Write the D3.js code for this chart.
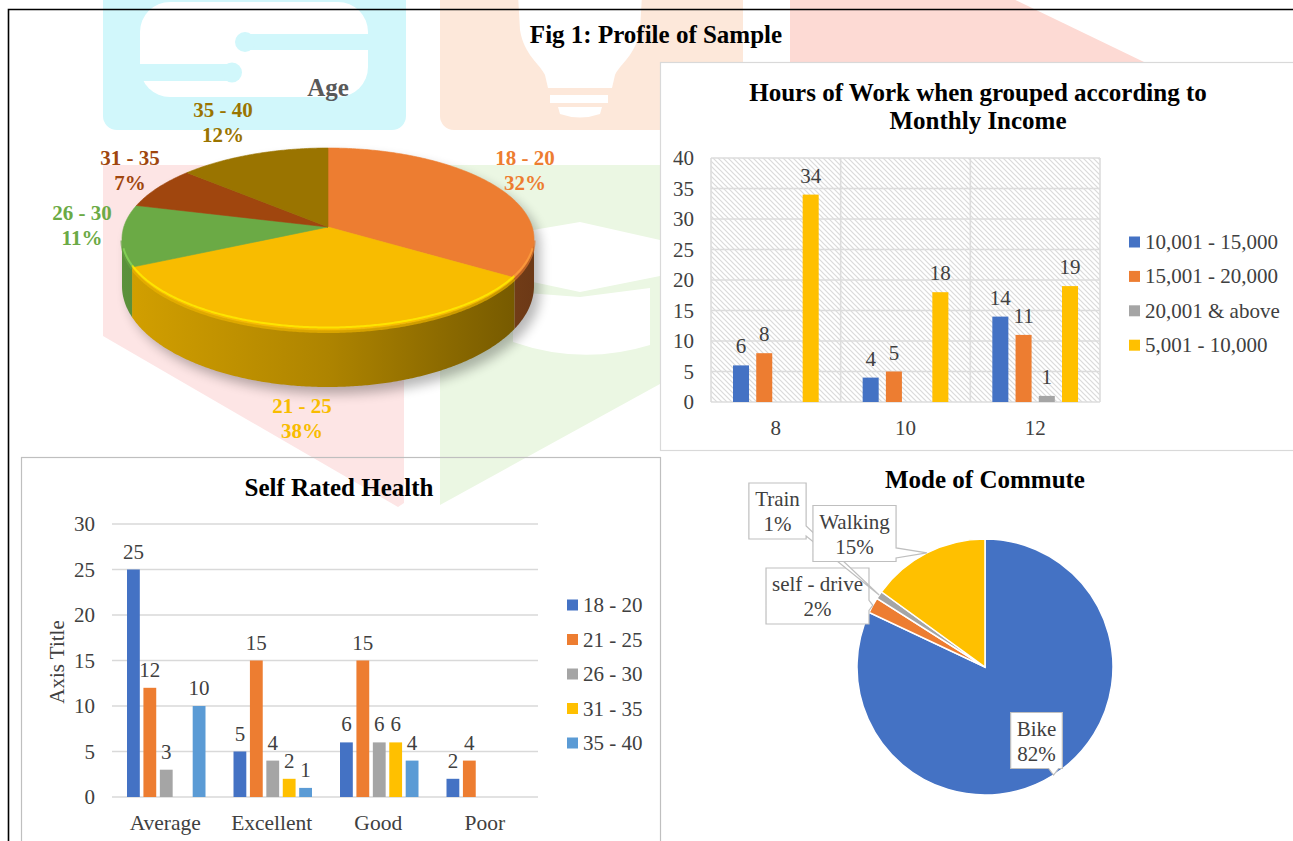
<!DOCTYPE html>
<html><head><meta charset="utf-8">
<script src="https://cdn.jsdelivr.net/npm/d3@7"></script>
<style>body{margin:0;background:#fff;overflow:hidden} svg{display:block}</style>
</head><body>
<svg id="chart" width="1293" height="841"></svg>
<script>
// ================= DATA =================
const figTitle = "Fig 1: Profile of Sample";

const ageTitle = "Age";
const ageGroups = ["18 - 20", "21 - 25", "26 - 30", "31 - 35", "35 - 40"];
const agePercent = [32, 38, 11, 7, 12];
const ageColors = ["#ED7D31", "#F8BC00", "#6BAA45", "#A0460E", "#9A7400"];

const hoursTitle = ["Hours of Work when grouped according to", "Monthly Income"];
const hoursCategories = ["8", "10", "12"];
const incomeSeries = ["10,001 - 15,000", "15,001 - 20,000", "20,001 & above", "5,001 - 10,000"];
const income_10001_15000 = [6, 4, 14];
const income_15001_20000 = [8, 5, 11];
const income_20001_above = [null, null, 1];
const income_5001_10000 = [34, 18, 19];
const incomeColors = ["#4472C4", "#ED7D31", "#A5A5A5", "#FFC000"];
const hoursTicks = [0, 5, 10, 15, 20, 25, 30, 35, 40];

const healthTitle = "Self Rated Health";
const healthAxisTitle = "Axis Title";
const healthCategories = ["Average", "Excellent", "Good", "Poor"];
const healthSeries = ["18 - 20", "21 - 25", "26 - 30", "31 - 35", "35 - 40"];
const health_18_20 = [25, 5, 6, 2];
const health_21_25 = [12, 15, 15, 4];
const health_26_30 = [3, 4, 6, null];
const health_31_35 = [null, 2, 6, null];
const health_35_40 = [10, 1, 4, null];
const healthColors = ["#4472C4", "#ED7D31", "#A5A5A5", "#FFC000", "#5B9BD5"];
const healthTicks = [0, 5, 10, 15, 20, 25, 30];

const commuteTitle = "Mode of Commute";
const commuteModes = ["Bike", "self - drive", "Train", "Walking"];
const commutePercent = [82, 2, 1, 15];
const commuteColors = ["#4472C4", "#ED7D31", "#A5A5A5", "#FFC000"];

// ================= LAYOUT =================
const FONT = "'Liberation Serif','Times New Roman',Times,serif";
const TXT = "#404040";
const TITLE_SIZE = 25;
const svg = d3.select("#chart");
const defs = svg.append("defs");

// ---------- faint watermark in background ----------
const wm = svg.append("g");
const CY = "#D1F7FB", PE = "#FDE8DA", SA = "#FDDAD4", PK = "#FDE5E5", GR = "#EBF7E3";
wm.append("rect").attr("x",103).attr("y",-20).attr("width",303).attr("height",150).attr("rx",14).attr("fill",CY);
wm.append("rect").attr("x",140).attr("y",2).attr("width",228).attr("height",95).attr("rx",30).attr("fill","#fff");
wm.append("rect").attr("x",245).attr("y",34).attr("width",130).attr("height",16).attr("fill",CY);
wm.append("circle").attr("cx",245).attr("cy",42).attr("r",10).attr("fill",CY);
wm.append("rect").attr("x",130).attr("y",64).attr("width",102).attr("height",17).attr("fill",CY);
wm.append("circle").attr("cx",232).attr("cy",72.5).attr("r",10).attr("fill",CY);
wm.append("rect").attr("x",440).attr("y",-20).attr("width",303).attr("height",150).attr("rx",14).attr("fill",PE);
wm.append("path").attr("d","M518,-5 L642,-5 L640,30 C636,55 620,64 615,75 L612,88 L548,88 L545,75 C540,64 524,55 520,30 Z").attr("fill","#fff");
wm.append("rect").attr("x",550).attr("y",95).attr("width",58).attr("height",8).attr("fill","#fff");
wm.append("path").attr("d","M558,107 L602,107 L600,114 Q580,121 560,114 Z").attr("fill","#fff");
wm.append("path").attr("d","M790,-5 L1005,-5 L1144,62 L790,62 Z").attr("fill",SA);
wm.append("path").attr("d","M103,165 L404,165 L404,503 L398,507 L103,336 Z").attr("fill",PK);
wm.append("path").attr("d","M440,165 L760,165 L760,329 L440,505 Z").attr("fill",GR);
wm.append("path").attr("d","M533,230 L580,222 L660,240 L660,276 L580,292 L533,282 Z").attr("fill","#fff");
wm.append("path").attr("d","M513,292 L580,297 L650,288 L650,345 Q582,366 513,342 Z").attr("fill","#fff");

// ---------- frames ----------
svg.append("path").attr("d","M8.5,841 V9.5 H1293").attr("fill","none").attr("stroke","#000").attr("stroke-width",1.6);
svg.append("rect").attr("x",660.5).attr("y",62.5).attr("width",640).attr("height",388)
  .attr("fill","#fff").attr("stroke","#D9D9D9").attr("stroke-width",1.2);
svg.append("rect").attr("x",21.5).attr("y",457.5).attr("width",639).attr("height",420)
  .attr("fill","none").attr("stroke","#BFBFBF").attr("stroke-width",1.2);

svg.append("text").attr("x",656).attr("y",34).attr("text-anchor","middle").attr("dominant-baseline","central")
  .attr("font-family",FONT).attr("font-size",TITLE_SIZE).attr("font-weight","bold").attr("fill","#000").text(figTitle);

// ================= AGE 3D PIE =================
(function(){
  const P = {cx:328, cy:239, rx:206, ry:91, depth:47, ryb:101, apex:-12};
  const g = svg.append("g");
  g.append("text").attr("x",328).attr("y",87).attr("text-anchor","middle").attr("dominant-baseline","central")
    .attr("font-family",FONT).attr("font-size",TITLE_SIZE).attr("font-weight","bold").attr("fill","#595959").text(ageTitle);
  const pie = d3.pie().sort(null).value(d=>d.v).startAngle(0).endAngle(2*Math.PI);
  const arcs = pie(ageGroups.map((k,i)=>({k, v:agePercent[i], c:ageColors[i]})));
  const ept = (t, cy, ry) => [P.cx + P.rx*Math.sin(t), cy - ry*Math.cos(t)];
  const samp = (a0,a1,cy,ry) => { const n = Math.max(2, Math.ceil(Math.abs(a1-a0)/0.01));
    return d3.range(n+1).map(i=>ept(a0+(a1-a0)*i/n, cy, ry)); };
  const line = d3.line();
  // shadow
  const f = defs.append("filter").attr("id","pieShadow").attr("x","-20%").attr("y","-20%").attr("width","140%").attr("height","140%");
  f.append("feGaussianBlur").attr("stdDeviation",6);
  const sil = samp(-Math.PI/2, Math.PI/2, P.cy, P.ry).concat(samp(Math.PI/2, 3*Math.PI/2, P.cy+P.depth, P.ryb));
  g.append("path").attr("d", line(sil)+"Z").attr("transform","translate(6,7)")
    .attr("fill","#000").attr("opacity",0.28).attr("filter","url(#pieShadow)");
  // sides
  arcs.forEach((a,i)=>{
    const s0 = Math.max(a.startAngle, Math.PI/2), s1 = Math.min(a.endAngle, 3*Math.PI/2);
    if (s0 >= s1) return;
    const gid = "ageSide"+i;
    const lg = defs.append("linearGradient").attr("id",gid).attr("gradientUnits","userSpaceOnUse")
      .attr("x1",P.cx-P.rx).attr("x2",P.cx+P.rx).attr("y1",0).attr("y2",0);
    [[0,0.45],[0.5,1.0],[1,2.2]].forEach(([o,k])=>lg.append("stop").attr("offset",o).attr("stop-color",d3.color(a.data.c).darker(k)));
    const pts = samp(s0, s1, P.cy, P.ry).concat(samp(s1, s0, P.cy+P.depth, P.ryb));
    g.append("path").attr("d", line(pts)+"Z").attr("fill","url(#"+gid+")");
    g.append("path").attr("d", line(samp(s0, s1, P.cy+1.5, P.ry))).attr("fill","none")
      .attr("stroke", d3.color(a.data.c).darker(0.15)).attr("stroke-width",3).attr("opacity",0.7);
  });
  // top faces
  const apex = [P.cx, P.cy + P.apex];
  arcs.forEach(a=>{
    const pts = [apex].concat(samp(a.startAngle, a.endAngle, P.cy, P.ry));
    g.append("path").attr("d", line(pts)+"Z").attr("fill", a.data.c).attr("stroke",a.data.c).attr("stroke-width",0.6);
  });
  // rim highlight on front edge
  arcs.forEach(a=>{
    const s0 = Math.max(a.startAngle, Math.PI/2+0.12), s1 = Math.min(a.endAngle, 3*Math.PI/2-0.12);
    if (s0 >= s1) return;
    g.append("path").attr("d", line(samp(s0, s1, P.cy-1.5, P.ry-1))).attr("fill","none")
      .attr("stroke", d3.color(a.data.c).brighter(0.7)).attr("stroke-width",2).attr("opacity",0.75);
  });
  // labels
  const labelPos = [[525,158],[302,406],[82,213],[130,158],[223,110]];
  arcs.forEach((a,i)=>{
    const t = g.append("text").attr("text-anchor","middle").attr("font-family",FONT).attr("font-size",21)
      .attr("font-weight","bold").attr("fill",a.data.c);
    t.append("tspan").attr("x",labelPos[i][0]).attr("y",labelPos[i][1]).attr("dominant-baseline","central").text(a.data.k);
    t.append("tspan").attr("x",labelPos[i][0]).attr("y",labelPos[i][1]+24.5).attr("dominant-baseline","central").text(a.data.v+"%");
  });
})();

// ================= HOURS OF WORK =================
(function(){
  const g = svg.append("g");
  hoursTitle.forEach((s,i)=>g.append("text").attr("x",978).attr("y",92+28*i).attr("text-anchor","middle")
    .attr("dominant-baseline","central").attr("font-family",FONT).attr("font-size",TITLE_SIZE).attr("font-weight","bold").attr("fill","#000").text(s));
  const series = [income_10001_15000, income_15001_20000, income_20001_above, income_5001_10000];
  const x0 = d3.scaleBand().domain(hoursCategories).range([711,1100]);
  const x1 = d3.scaleBand().domain(incomeSeries).range([22, 107.7]).paddingInner(0.31);
  const y = d3.scaleLinear().domain([0,40]).range([402,158]);
  const pat = defs.append("pattern").attr("id","hatch").attr("patternUnits","userSpaceOnUse").attr("width",5).attr("height",5);
  pat.append("rect").attr("width",5).attr("height",5).attr("fill","#fff");
  pat.append("path").attr("d","M0,0 L5,5 M-1,4 L1,6 M4,-1 L6,1").attr("stroke","#DADADA").attr("stroke-width",1.2);
  g.append("rect").attr("x",711).attr("y",158).attr("width",389).attr("height",244).attr("fill","url(#hatch)");
  g.selectAll(".hg").data(hoursTicks).join("line").attr("x1",711).attr("x2",1100)
    .attr("y1",d=>y(d)).attr("y2",d=>y(d)).attr("stroke","#DCDCDC").attr("stroke-width",1.6);
  const bounds = hoursCategories.map(c=>x0(c)).concat([x0.range()[1]]);
  g.selectAll(".vg").data(bounds).join("line").attr("x1",d=>d).attr("x2",d=>d).attr("y1",158).attr("y2",402)
    .attr("stroke","#DCDCDC").attr("stroke-width",1.6);
  const ya = g.append("g").attr("transform","translate(711,0)")
    .call(d3.axisLeft(y).tickValues(hoursTicks).tickSize(0).tickPadding(17));
  ya.select(".domain").remove();
  ya.selectAll("text").attr("font-family",FONT).attr("font-size",21).attr("fill",TXT);
  const xa = g.append("g").attr("transform","translate(0,402)").call(d3.axisBottom(x0).tickSize(0).tickPadding(18));
  xa.select(".domain").remove();
  xa.selectAll("text").attr("font-family",FONT).attr("font-size",21).attr("fill",TXT);
  series.forEach((vals,si)=>{
    vals.forEach((v,ci)=>{
      if (v == null) return;
      const bx = x0(hoursCategories[ci]) + x1(incomeSeries[si]);
      g.append("rect").attr("x",bx).attr("y",y(v)).attr("width",x1.bandwidth()).attr("height",y(0)-y(v)).attr("fill",incomeColors[si]);
      g.append("text").attr("x",bx+x1.bandwidth()/2).attr("y",y(v)-19).attr("text-anchor","middle").attr("dominant-baseline","central")
        .attr("font-family",FONT).attr("font-size",21).attr("fill",TXT).text(v);
    });
  });
  incomeSeries.forEach((s,i)=>{
    const yy = 242 + i*34.4;
    g.append("rect").attr("x",1129).attr("y",yy-5.5).attr("width",11).attr("height",11).attr("fill",incomeColors[i]);
    g.append("text").attr("x",1145).attr("y",yy).attr("dominant-baseline","central").attr("font-family",FONT)
      .attr("font-size",21).attr("fill",TXT).text(s);
  });
})();

// ================= SELF RATED HEALTH =================
(function(){
  const g = svg.append("g");
  g.append("text").attr("x",339).attr("y",487).attr("text-anchor","middle").attr("dominant-baseline","central")
    .attr("font-family",FONT).attr("font-size",TITLE_SIZE).attr("font-weight","bold").attr("fill","#000").text(healthTitle);
  const series = [health_18_20, health_21_25, health_26_30, health_31_35, health_35_40];
  const x0 = d3.scaleBand().domain(healthCategories).range([112,538]);
  const x1 = d3.scaleBand().domain(healthSeries).range([15, 93.5]).paddingInner(0.22);
  const y = d3.scaleLinear().domain([0,30]).range([797,524]);
  g.selectAll(".hg").data(healthTicks).join("line").attr("x1",112).attr("x2",538)
    .attr("y1",d=>y(d)).attr("y2",d=>y(d)).attr("stroke","#D9D9D9").attr("stroke-width",1.3);
  const ya = g.append("g").attr("transform","translate(112,0)")
    .call(d3.axisLeft(y).tickValues(healthTicks).tickSize(0).tickPadding(17));
  ya.select(".domain").remove();
  ya.selectAll("text").attr("font-family",FONT).attr("font-size",21).attr("fill",TXT);
  const xa = g.append("g").attr("transform","translate(0,797)").call(d3.axisBottom(x0).tickSize(0).tickPadding(18));
  xa.select(".domain").remove();
  xa.selectAll("text").attr("font-family",FONT).attr("font-size",21.5).attr("fill",TXT);
  g.append("text").attr("transform","translate(57,662) rotate(-90)").attr("text-anchor","middle").attr("dominant-baseline","central")
    .attr("font-family",FONT).attr("font-size",21).attr("fill","#404040").text(healthAxisTitle);
  series.forEach((vals,si)=>{
    vals.forEach((v,ci)=>{
      if (v == null) return;
      const bx = x0(healthCategories[ci]) + x1(healthSeries[si]);
      g.append("rect").attr("x",bx).attr("y",y(v)).attr("width",x1.bandwidth()).attr("height",y(0)-y(v)).attr("fill",healthColors[si]);
      g.append("text").attr("x",bx+x1.bandwidth()/2).attr("y",y(v)-18).attr("text-anchor","middle").attr("dominant-baseline","central")
        .attr("font-family",FONT).attr("font-size",21).attr("fill",TXT).text(v);
    });
  });
  healthSeries.forEach((s,i)=>{
    const yy = 605 + i*34.5;
    g.append("rect").attr("x",567).attr("y",yy-5.5).attr("width",11).attr("height",11).attr("fill",healthColors[i]);
    g.append("text").attr("x",583).attr("y",yy).attr("dominant-baseline","central").attr("font-family",FONT)
      .attr("font-size",21).attr("fill",TXT).text(s);
  });
})();

// ================= MODE OF COMMUTE =================
(function(){
  const g = svg.append("g");
  g.append("text").attr("x",985).attr("y",479).attr("text-anchor","middle").attr("dominant-baseline","central")
    .attr("font-family",FONT).attr("font-size",TITLE_SIZE).attr("font-weight","bold").attr("fill","#000").text(commuteTitle);
  const C = [985, 667], R = 128;
  const pie = d3.pie().sort(null).value(d=>d.v);
  const arcs = pie(commuteModes.map((k,i)=>({k, v:commutePercent[i], c:commuteColors[i]})));
  const arc = d3.arc().innerRadius(0).outerRadius(R);
  const edge = d3.arc().innerRadius(R).outerRadius(R);
  const pg = g.append("g").attr("transform",`translate(${C[0]},${C[1]})`);
  pg.selectAll("path").data(arcs).join("path").attr("d",arc).attr("fill",d=>d.data.c).attr("stroke","#fff").attr("stroke-width",1.5);
  // callout boxes (center positions)
  const boxCenter = [[1036.5,740.5],[817.5,596],[777.5,511],[854.5,533.5]];
  arcs.forEach((a,i)=>{
    const tp = edge.centroid(a); const tx = tp[0]+C[0], ty = tp[1]+C[1];
    const [bx,by] = boxCenter[i];
    const cg = g.append("g");
    const path = cg.append("path");
    const t = cg.append("text").attr("text-anchor","middle").attr("font-family",FONT).attr("font-size",21).attr("fill",TXT);
    t.append("tspan").attr("x",bx).attr("y",by-12).attr("dominant-baseline","central").text(a.data.k);
    t.append("tspan").attr("x",bx).attr("y",by+13).attr("dominant-baseline","central").text(a.data.v+"%");
    const w = t.node().getBBox().width + 12, h = 56;
    const x0 = bx-w/2, x1 = bx+w/2, y0 = by-h/2, y1 = by+h/2;
    const hw = w/2, hh = h/2, dx = tx-bx, dy = ty-by, hb = 5;
    const cl = (v,a,b)=>Math.max(a,Math.min(b,v));
    let pts;
    if (Math.abs(dx)/hw > Math.abs(dy)/hh) {
      const c = cl(ty, y0+8, y1-8);
      if (dx > 0) pts = [[x0,y0],[x1,y0],[x1,c-hb],[tx,ty],[x1,c+hb],[x1,y1],[x0,y1]];
      else pts = [[x0,y0],[x1,y0],[x1,y1],[x0,y1],[x0,c+hb],[tx,ty],[x0,c-hb]];
    } else {
      const c = cl(tx, x0+8, x1-8);
      if (dy > 0) pts = [[x0,y0],[x1,y0],[x1,y1],[c+hb,y1],[tx,ty],[c-hb,y1],[x0,y1]];
      else pts = [[x0,y0],[c-hb,y0],[tx,ty],[c+hb,y0],[x1,y0],[x1,y1],[x0,y1]];
    }
    path.attr("d", d3.line()(pts)+"Z").attr("fill","#fff").attr("stroke","#BFBFBF").attr("stroke-width",1.2);
  });
})();
</script>
</body></html>
